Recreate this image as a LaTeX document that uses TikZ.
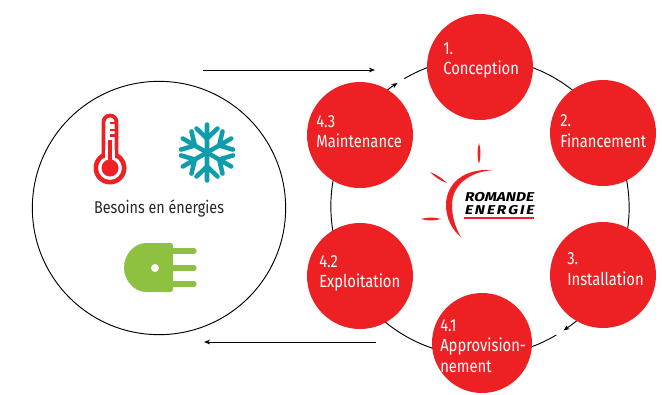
\documentclass[tikz,border=0pt]{standalone}
\usepackage{fontspec}
\setmainfont[FakeStretch=0.84]{Fira Sans}
\newfontfamily\logofont[FakeStretch=1.2,FakeSlant=0.2]{Fira Sans}
\definecolor{reRed}{RGB}{237,32,36}
\definecolor{snowTeal}{RGB}{15,157,174}
\definecolor{plugGreen}{RGB}{141,193,63}
\tikzset{
  etape/.style={circle,fill=reRed,minimum size=79.5pt,inner sep=0pt},
  etapeText/.style={anchor=west,inner sep=0pt,align=left,text=white,font=\fontsize{13.2}{15.4}\selectfont},
  logoText/.style={anchor=west,inner sep=0pt,font=\logofont\fontsize{9.6}{10}\bfseries\selectfont},
  flowArrow/.style={-{Stealth[length=4.5pt,width=3.5pt]},line width=0.7pt},
}
\usetikzlibrary{arrows.meta}
\begin{document}
\begin{tikzpicture}[x=0.75pt,y=0.75pt,yscale=-1,xscale=1]
    \useasboundingbox (0,0) rectangle (662,394);
    %Ring
    \draw [flowArrow] (480,207) ++(59.2:149) arc (59.2:236.4:149) ;
    \draw [flowArrow] (480,207) ++(239.5:149) arc (239.5:415.9:149) ;
    %Steps
    \node [etape] (conception) at (480,67) {};
    \node [etape] (financement) at (603,133) {};
    \node [etape] (installation) at (603,275) {};
    \node [etape,minimum size=75pt] (approvisionnement) at (482,343) {};
    \node [etape] (exploitation) at (360,276) {};
    \node [etape] (maintenance) at (360,135) {};
    % Text Node
    \node [etapeText] (conceptionText) at (443,60.5) {1.\\Conception};
    \node [etapeText] (financementText) at (560,131) {2.\\Financement};
    \node [etapeText] (installationText) at (567,269) {3.\\Installation};
    \node [etapeText] (approvisionnementText) at (440,346) {4.1\\Approvision-\\nement};
    \node [etapeText] (exploitationText) at (319,273.5) {4.2\\Exploitation};
    \node [etapeText] (maintenanceText) at (316,131.5) {4.3\\Maintenance};
    %Left circle
    \node [circle,draw,line width=0.7pt,minimum size=190pt,inner sep=0pt] (besoins) at (159,208) {};
    \node [inner sep=0pt,font=\fontsize{12.8}{14}\selectfont,text=black!85] (besoinsText) at (159,208) {Besoins en énergies};
    %Straight Lines
    \coordinate (allerA) at (203,70);
    \coordinate (allerB) at (375,70);
    \coordinate (retourA) at (376,342);
    \coordinate (retourB) at (204,342);
    \draw [flowArrow] (allerA) -- (allerB) ;
    \draw [flowArrow] (retourA) -- (retourB) ;
    %Thermometer
    \draw [reRed,line width=2.9pt] (103.5,158) -- (103.5,122) arc (180:360:6.5) -- (116.5,158) ;
    \fill [reRed,even odd rule] (110,168) circle (16.5) (110,168) circle (12);
    \fill [white] (105.4,150) rectangle (114.6,159);
    \fill [reRed] (110,168) circle (8.5);
    \fill [reRed] (107.7,140) rectangle (112.3,165);
    \draw [reRed,line width=1.6pt] (110,123) -- (115,123) (110,130) -- (115,130) (110,135.5) -- (115,135.5);
    %Snowflake
    \foreach \ang in {30,90,150,210,270,330} {
      \begin{scope}[shift={(207,152.5)},rotate=\ang]
        \draw [snowTeal,line width=3.4pt,line cap=round] (0,0) -- (28,0) (14,0) -- (24,10.5) (14,0) -- (24,-10.5);
      \end{scope}
    }
    %Plug
    \fill [plugGreen,rounded corners=2pt] (173,243) -- (173,292) -- (148.5,292) arc (90:270:24.5) -- cycle;
    \fill [white] (155,268) circle (4);
    \draw [plugGreen,line width=4pt,line cap=round] (170,251) -- (194,251) (170,268) -- (194,268) (170,284) -- (194,284);
    %Logo
    \fill [reRed] (479,143) .. controls (477,150) and (477,156) .. (479,164) .. controls (481,156) and (481,150) .. (479,143) -- cycle;
    \fill [reRed] (430,172) .. controls (436,178) and (441,181) .. (447,183) .. controls (442,178) and (437,175) .. (430,172) -- cycle;
    \fill [reRed] (421,219) .. controls (428,217) and (434,217) .. (441,219) .. controls (434,221) and (428,221) .. (421,219) -- cycle;
    \fill [reRed] (493,170) .. controls (462,168) and (446,185) .. (446,205) .. controls (446,218) and (452,230) .. (461,237) .. controls (455,227) and (452,216) .. (452,205) .. controls (452,186) and (468,172) .. (493,170) -- cycle;
    \node [logoText] (romande) at (464,197.5) {ROMANDE};
    \node [logoText] (energie) at (464,210.5) {E\hspace{1.4pt}N\hspace{1.4pt}E\hspace{1.4pt}R\hspace{1.4pt}G\hspace{1.4pt}I\hspace{1.4pt}E};
    \fill [reRed] (464,217) rectangle (534,219);
\end{tikzpicture}
\end{document}
